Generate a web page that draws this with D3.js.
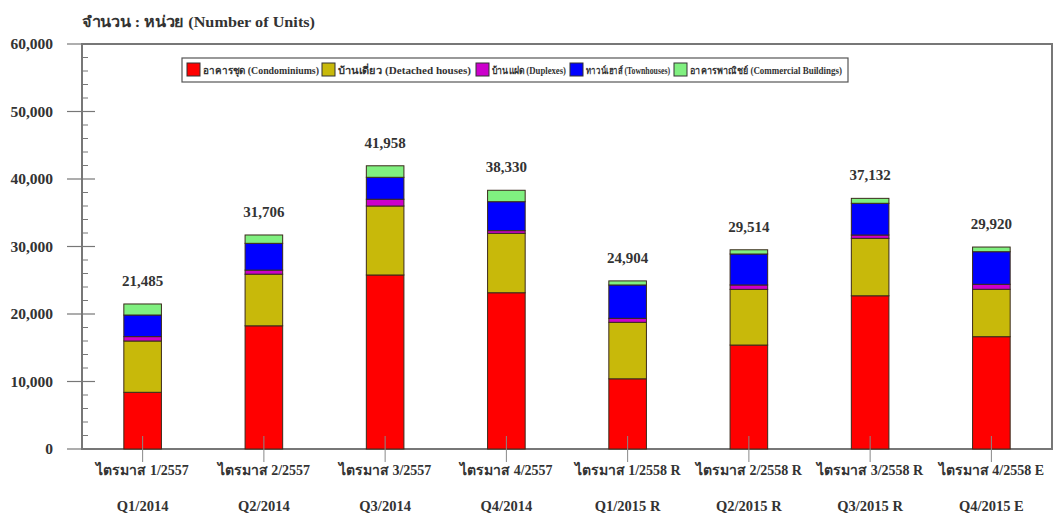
<!DOCTYPE html>
<html>
<head>
<meta charset="utf-8">
<script src="https://cdn.jsdelivr.net/npm/d3@7"></script>
<style>
  body { margin: 0; background: #fff; }
  text { font-family: "Liberation Serif", "Times New Roman", serif; font-weight: bold; fill: #333; }
</style>
</head>
<body>
<div id="bar_chart"></div>
<script>

// Data
var quartersTh = ["ไตรมาส 1/2557", "ไตรมาส 2/2557", "ไตรมาส 3/2557", "ไตรมาส 4/2557",
                  "ไตรมาส 1/2558 R", "ไตรมาส 2/2558 R", "ไตรมาส 3/2558 R", "ไตรมาส 4/2558 E"];
var quartersEn = ["Q1/2014", "Q2/2014", "Q3/2014", "Q4/2014",
                  "Q1/2015 R", "Q2/2015 R", "Q3/2015 R", "Q4/2015 E"];

var condominiums = [8400, 18250, 25780, 23150, 10400, 15400, 22700, 16640];
var detached     = [7600, 7650, 10220, 8800, 8370, 8250, 8510, 7020];
var duplexes     = [650, 600, 1000, 400, 590, 650, 490, 740];
var townhouses   = [3200, 3970, 3250, 4290, 4940, 4590, 4700, 4830];
var commercial   = [1635, 1236, 1708, 1690, 604, 624, 732, 690];

var seriesNames = ["อาคารชุด (Condominiums)", "บ้านเดี่ยว (Detached houses)", "บ้านแฝด (Duplexes)",
                   "ทาวน์เฮาส์ (Townhouses)", "อาคารพาณิชย์ (Commercial Buildings)"];
var seriesColors = ["#ff0000", "#c8b90a", "#cc00cc", "#0000ff", "#80f080"];

var yTicks = [0, 10000, 20000, 30000, 40000, 50000, 60000];

// Build rows for the stack
var keys = ["c", "d", "x", "t", "m"];
var rows = quartersEn.map(function(q, i){
    return { q: q, th: quartersTh[i], c: condominiums[i], d: detached[i], x: duplexes[i],
             t: townhouses[i], m: commercial[i] };
});

var w = 1063, h = 531;
var margin = {top: 44, right: 11, bottom: 82, left: 82};
var width = w - margin.left - margin.right,
    height = h - margin.top - margin.bottom;

var svg = d3.select("#bar_chart").append("svg")
    .attr("width", w).attr("height", h);

var x = d3.scaleBand().domain(quartersEn).range([0, width]).paddingInner(0.69).paddingOuter(0.345);
var y = d3.scaleLinear().domain([0, 60000]).range([height, 0]);

// unit title
svg.append("text").attr("x", 82).attr("y", 27)
    .attr("textLength", 233).attr("lengthAdjust", "spacingAndGlyphs")
    .style("font-size", "15px").text("จำนวน : หน่วย (Number of Units)");

var g = svg.append("g").attr("transform", "translate(" + margin.left + "," + margin.top + ")");

// frame
g.append("rect").attr("width", width).attr("height", height)
    .attr("fill", "none").attr("stroke", "#777").attr("stroke-width", 2);

// y axis, major ticks cross the frame, minor ones inside
var yAxis = d3.axisLeft(y).tickValues(yTicks).tickSize(0).tickPadding(29).tickFormat(d3.format(","));
g.append("g").call(yAxis).call(function(a){
    a.select(".domain").remove();
    a.selectAll("text").style("font-size", "15.5px").attr("fill", "#333");
});
g.selectAll(".ymajor").data(yTicks).enter().append("line")
    .attr("x1", -15).attr("x2", 13)
    .attr("y1", function(d){ return y(d); }).attr("y2", function(d){ return y(d); })
    .attr("stroke", "#777").attr("stroke-width", 1.2);
g.selectAll(".yminor").data(d3.range(0, 60000, 2000).filter(function(d){ return d % 10000 != 0; }))
    .enter().append("line")
    .attr("x1", 0).attr("x2", 6)
    .attr("y1", function(d){ return y(d); }).attr("y2", function(d){ return y(d); })
    .attr("stroke", "#777").attr("stroke-width", 1);

// stacked bars
var stacked = d3.stack().keys(keys)(rows);
g.selectAll(".layer").data(stacked).enter().append("g")
    .attr("fill", function(d, i){ return seriesColors[i]; })
    .selectAll("rect").data(function(d){ return d; }).enter().append("rect")
    .attr("x", function(d){ return x(d.data.q); })
    .attr("y", function(d){ return y(d[1]); })
    .attr("height", function(d){ return y(d[0]) - y(d[1]); })
    .attr("width", x.bandwidth())
    .attr("stroke", "#3a2a1a").attr("stroke-width", 1);

// x ticks
g.selectAll(".xtick").data(quartersEn).enter().append("line")
    .attr("x1", function(d){ return x(d) + x.bandwidth() / 2; })
    .attr("x2", function(d){ return x(d) + x.bandwidth() / 2; })
    .attr("y1", height - 13).attr("y2", height + 13)
    .attr("stroke", "#888").attr("stroke-width", 1);

// x labels (thai + english)
g.selectAll(".xlab1").data(rows).enter().append("text")
    .attr("x", function(d){ return x(d.q) + x.bandwidth() / 2; })
    .attr("y", height + 26)
    .attr("text-anchor", "middle").style("font-size", "14px")
    .text(function(d){ return d.th; });
g.selectAll(".xlab2").data(rows).enter().append("text")
    .attr("x", function(d){ return x(d.q) + x.bandwidth() / 2; })
    .attr("y", height + 62)
    .attr("text-anchor", "middle").style("font-size", "14.5px")
    .text(function(d){ return d.q; });

// totals above bars
g.selectAll(".total").data(rows).enter().append("text")
    .attr("x", function(d){ return x(d.q) + x.bandwidth() / 2; })
    .attr("y", function(d){ return y(d.c + d.d + d.x + d.t + d.m) - 18; })
    .attr("text-anchor", "middle").style("font-size", "15px")
    .text(function(d){ return d3.format(",")(d.c + d.d + d.x + d.t + d.m); });

// legend
var legend = svg.append("g").attr("transform", "translate(182,58)");
legend.append("rect").attr("width", 666).attr("height", 24)
    .attr("fill", "#fff").attr("stroke", "#555").attr("stroke-width", 1.2);
var legendX = [5, 140, 294, 388, 492];
var legendW = [116, 133, 74, 84, 152];
seriesNames.forEach(function(name, i){
    legend.append("rect").attr("x", legendX[i]).attr("y", 5).attr("width", 13).attr("height", 13)
        .attr("fill", seriesColors[i]).attr("stroke", "#333");
    legend.append("text").attr("x", legendX[i] + 16).attr("y", 16)
        .attr("textLength", legendW[i]).attr("lengthAdjust", "spacingAndGlyphs")
        .style("font-size", "10px").text(name);
});

</script>
</body>
</html>
